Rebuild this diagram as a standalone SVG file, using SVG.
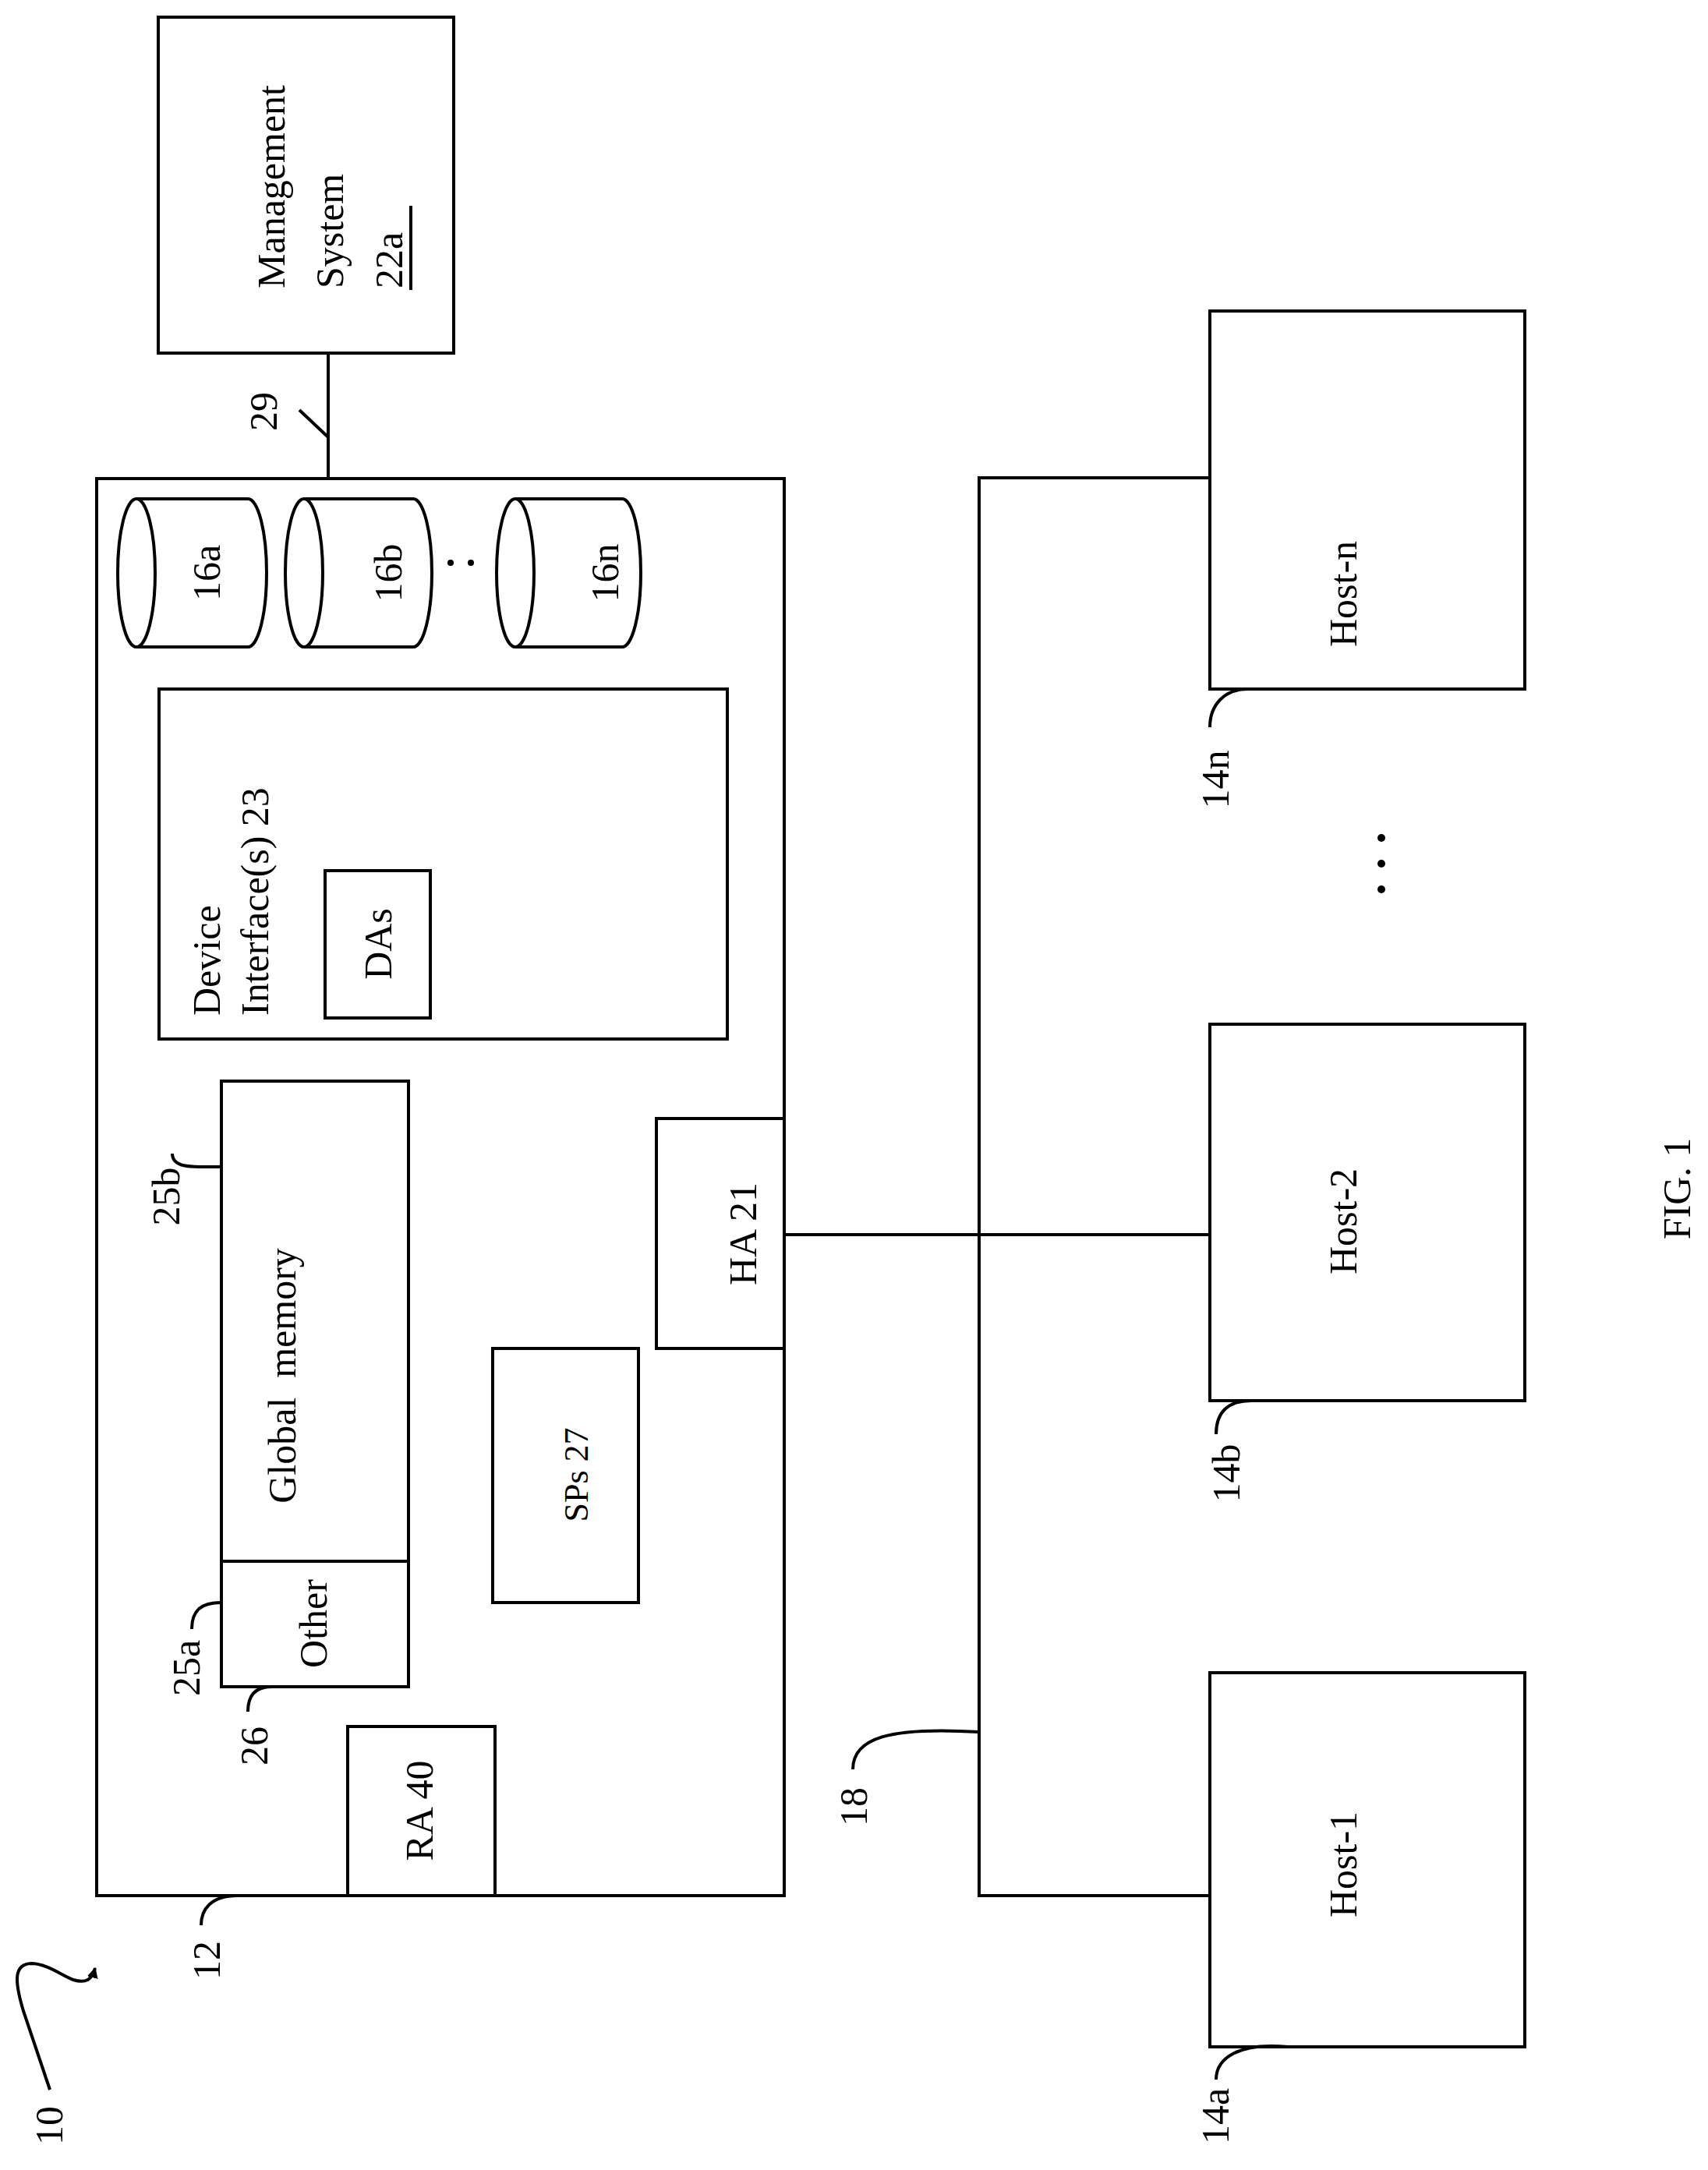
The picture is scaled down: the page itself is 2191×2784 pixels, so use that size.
<svg xmlns="http://www.w3.org/2000/svg" width="2191" height="2784" viewBox="0 0 2191 2784">
<style>
.b{fill:none;stroke:#000;stroke-width:4}
.w{fill:#fff;stroke:#000;stroke-width:4}
text{font-family:"Liberation Serif","Times New Roman",serif;font-size:50px;fill:#000}
.m{text-anchor:middle}
</style>
<defs><marker id="ah" viewBox="0 0 10 10" refX="9" refY="5" markerWidth="14" markerHeight="14" markerUnits="userSpaceOnUse" orient="auto"><path d="M0,0 L10,5 L0,10 z"/></marker></defs>
<rect width="2191" height="2784" fill="#fff"/>
<g id="connectors">
<line class="b" x1="421" y1="453" x2="421" y2="614"/>
<line class="b" x1="384" y1="526" x2="420" y2="560"/>
<polyline class="b" points="1552,613 1256,613 1256,2432 1552,2432"/>
<line class="b" x1="1006" y1="1584" x2="1552" y2="1584"/>
</g>
<g id="mgmt"><rect class="b" x="203" y="22" width="379" height="431"/>
<text transform="translate(365,370) rotate(-90)">Management</text>
<text transform="translate(440,370) rotate(-90)">System</text>
<text transform="translate(516,370) rotate(-90)">22a</text>
<line class="b" x1="527" y1="264" x2="527" y2="372"/></g>
<g id="l29"><text class="m" transform="translate(355,528) rotate(-90)">29</text></g>
<g id="storage"><rect class="b" x="124" y="614" width="882" height="1818"/></g>
<g id="d16a"><path class="b" d="M175,640 H318 A24,95 0 0 1 318,830 H175"/><ellipse class="b" cx="175" cy="735" rx="24" ry="95"/><text class="m" transform="translate(282,735) rotate(-90)">16a</text></g>
<g id="d16b"><path class="b" d="M390,640 H530 A24,95 0 0 1 530,830 H390"/><ellipse class="b" cx="390" cy="735" rx="24" ry="95"/><text class="m" transform="translate(515,735) rotate(-90)">16b</text></g>
<circle cx="578" cy="722" r="4"/><circle cx="604" cy="722" r="4"/>
<g id="d16n"><path class="b" d="M661,640 H798 A24,95 0 0 1 798,830 H661"/><ellipse class="b" cx="661" cy="735" rx="24" ry="95"/><text class="m" transform="translate(793,735) rotate(-90)">16n</text></g>
<g id="dev"><rect class="b" x="204" y="884" width="729" height="449"/>
<text transform="translate(282,1303) rotate(-90)">Device</text>
<text transform="translate(344,1303) rotate(-90)">Interface(s) 23</text>
<rect class="b" x="417" y="1117" width="135" height="189"/>
<text class="m" transform="translate(502,1211) rotate(-90)">DAs</text></g>
<g id="gm"><rect class="b" x="284" y="1387" width="240" height="616"/>
<text class="m" transform="translate(379,1765) rotate(-90)" xml:space="preserve">Global  memory</text></g>
<g id="other"><rect class="b" x="284" y="2003" width="240" height="161"/>
<text class="m" transform="translate(419,2083) rotate(-90)">Other</text></g>
<g id="sps"><rect class="b" x="632" y="1730" width="187" height="326"/>
<text class="m" transform="translate(754,1892) rotate(-90)" style="font-size:44px">SPs 27</text></g>
<g id="ha"><rect class="b" x="842" y="1435" width="164" height="295"/>
<text class="m" transform="translate(970,1583) rotate(-90)">HA 21</text></g>
<g id="ra"><rect class="b" x="446" y="2215" width="189" height="217"/>
<text class="m" transform="translate(555,2323) rotate(-90)">RA 40</text></g>
<g id="hostn"><rect class="b" x="1552" y="399" width="404" height="485"/><text class="m" transform="translate(1740,762) rotate(-90)">Host-n</text></g>
<g id="host2"><rect class="b" x="1552" y="1314" width="404" height="483"/><text class="m" transform="translate(1740,1567) rotate(-90)">Host-2</text></g>
<g id="host1"><rect class="b" x="1552" y="2146" width="404" height="480"/><text class="m" transform="translate(1740,2392) rotate(-90)">Host-1</text></g>
<circle cx="1772" cy="1075" r="5"/><circle cx="1772" cy="1108" r="5"/><circle cx="1772" cy="1141" r="5"/>
<text class="m" transform="translate(2168,1525) rotate(-90)">FIG. 1</text>
<g id="labels">
<text class="m" transform="translate(1576,1000) rotate(-90)">14n</text>
<path class="b" d="M1552,933 C1552,905 1570,884 1601,884"/>
<text class="m" transform="translate(1590,1890) rotate(-90)">14b</text>
<path class="b" d="M1560,1840 C1560,1812 1575,1797 1605,1797"/>
<text class="m" transform="translate(1576,2715) rotate(-90)">14a</text>
<path class="b" d="M1560,2668 C1560,2640 1590,2620 1652,2626"/>
<text class="m" transform="translate(1112,2318) rotate(-90)">18</text>
<path class="b" d="M1094,2270 C1094,2230 1140,2215 1256,2222"/>
<text class="m" transform="translate(282,2515) rotate(-90)">12</text>
<path class="b" d="M258,2470 C258,2450 270,2432 305,2432"/>
<text class="m" transform="translate(343,2240) rotate(-90)">26</text>
<path class="b" d="M318,2196 C318,2178 325,2164 348,2164"/>
<text class="m" transform="translate(256,2140) rotate(-90)">25a</text>
<path class="b" d="M246,2090 C246,2066 258,2056 284,2056"/>
<text class="m" transform="translate(230,1535) rotate(-90)">25b</text>
<path class="b" d="M221,1480 C221,1500 250,1497 284,1497"/>
<text class="m" transform="translate(80,2727) rotate(-90)">10</text>
<path class="b" d="M64,2681 L30,2580 C18,2540 18,2520 40,2519 C60,2519 80,2535 94,2540 C110,2545 118,2540 122,2525" marker-end="url(#ah)"/>
</g>
</svg>
